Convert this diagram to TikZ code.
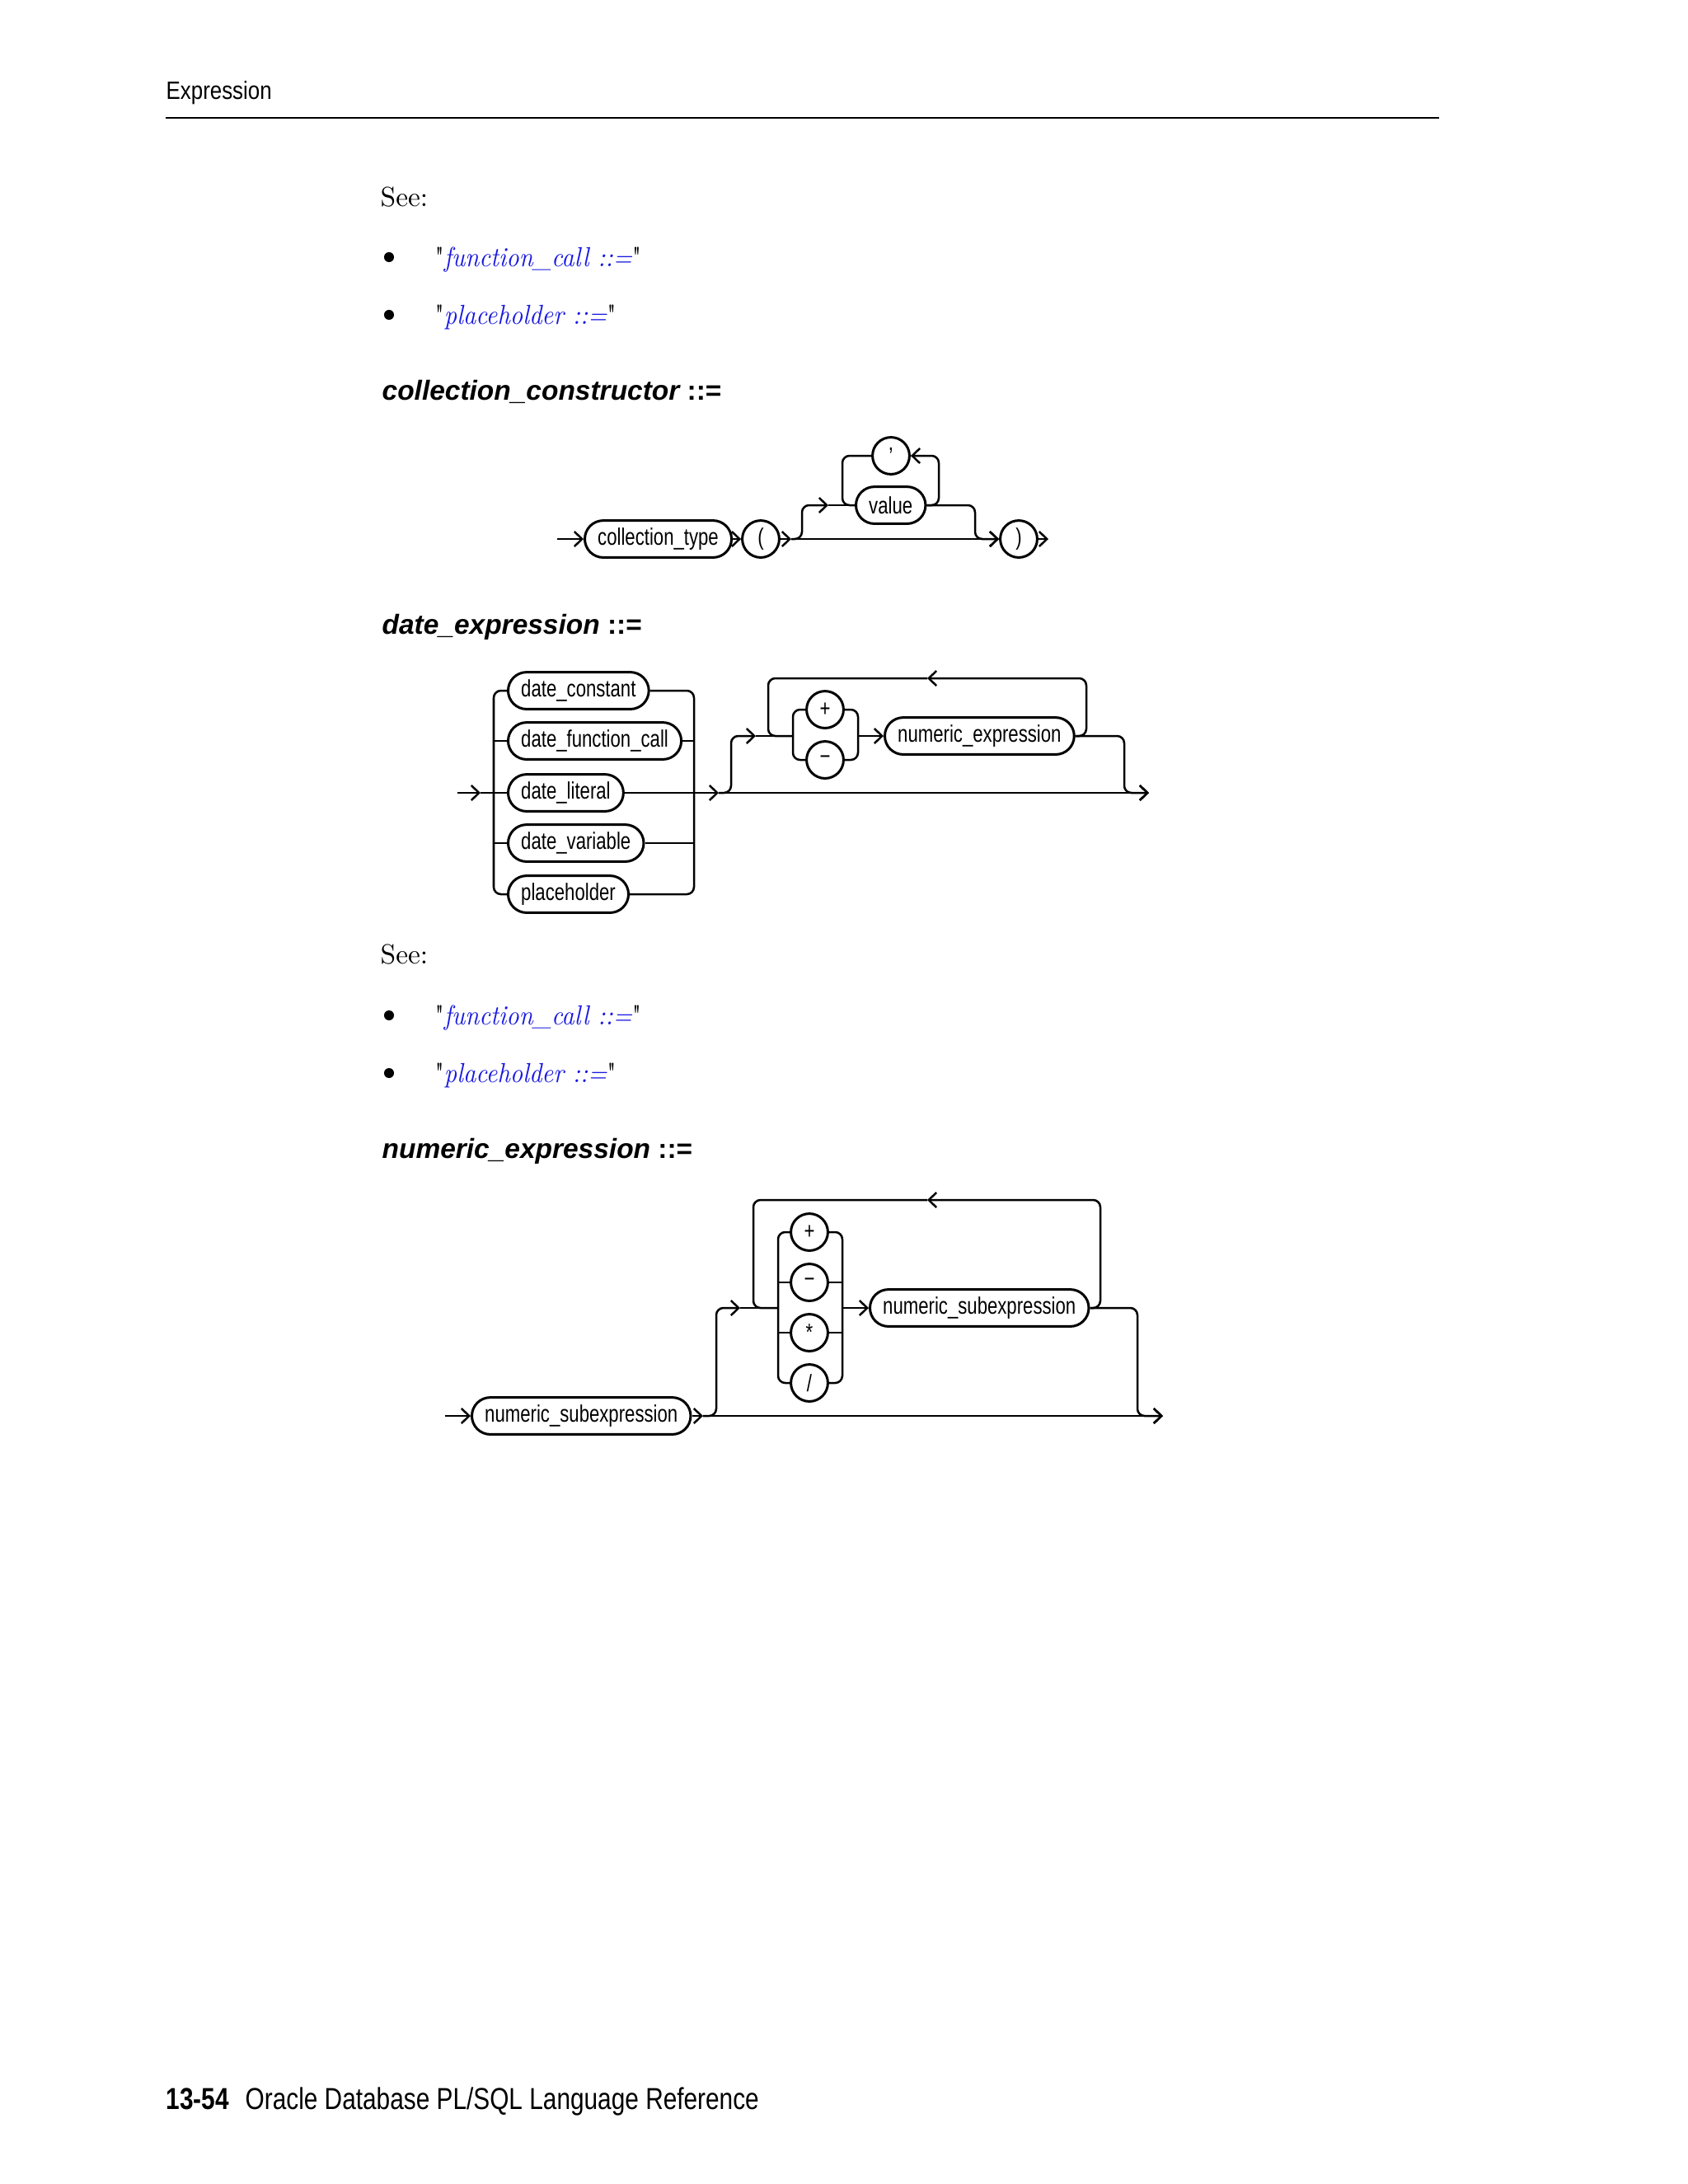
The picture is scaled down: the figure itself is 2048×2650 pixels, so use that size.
\documentclass[tikz,border=0pt]{standalone}
\usepackage{fontspec}
\usepackage{tikz}
\usepackage{xcolor}
\usetikzlibrary{positioning, arrows.meta}
\setsansfont{Liberation Sans}
\newfontfamily\boxfont[FakeStretch=0.77]{Liberation Sans}
\newfontfamily\headfont[FakeStretch=0.85]{Liberation Sans}
\newfontfamily\footfont[FakeStretch=0.81]{Liberation Sans}
\newfontfamily\linkfont[FakeStretch=0.9]{Latin Modern Roman}
\newcommand{\dq}{{\linkfont\upshape"}}
\definecolor{linkblue}{RGB}{25, 25, 225}
\tikzset{
    synline/.style={line width=0.75pt, rounded corners=2.6pt},
    synarrow/.style={synline, -{Straight Barb[length=2.8pt, width=5.4pt]}},
    synbox/.style={draw, line width=0.9pt, rectangle, rounded corners=6.7pt, minimum height=13.4pt,
        inner xsep=4.7pt, inner ysep=0pt, font=\boxfont\fontsize{8.6}{10}\selectfont},
    synterm/.style={draw, line width=0.9pt, circle, minimum size=13.4pt, inner sep=0pt,
        font=\boxfont\fontsize{8.6}{10}\selectfont},
    headtext/.style={anchor=base west, inner sep=0pt, font=\headfont\fontsize{9.1}{11}\selectfont},
    foottext/.style={anchor=base west, inner sep=0pt, font=\footfont\fontsize{11}{13}\selectfont},
    seetext/.style={anchor=base west, inner sep=0pt, font=\fontsize{10}{12}\selectfont},
    linktext/.style={anchor=base west, inner sep=0pt, font=\linkfont\fontsize{10}{12}\selectfont},
    titletext/.style={anchor=base west, inner sep=0pt, font=\sffamily\bfseries\fontsize{10}{12}\selectfont},
    bulletdot/.style={circle, fill, inner sep=0pt, minimum size=3.6pt}
}
\begin{document}
\begin{tikzpicture}[x=0.29883pt, y=-0.29883pt]
\useasboundingbox[fill=white] (0,0) rectangle (2048,2650);

\node[headtext] (head) at (201,120) {Expression};
\draw[line width=0.6pt] (201,143) -- (1746,143);

\node[seetext] (see1) at (461,250) {See:};
\node[bulletdot] (bul1) at (472,312) {};
\node[linktext] (lnk1) at (527,323) {\dq\textcolor{linkblue}{\itshape function\_call ::=}\dq};
\node[bulletdot] (bul2) at (472,382) {};
\node[linktext] (lnk2) at (527,393) {\dq\textcolor{linkblue}{\itshape placeholder ::=}\dq};

\node[titletext] (ttl1) at (463,485) {\itshape collection\_constructor\upshape{} ::=};

\coordinate (cc-in) at (676,654);
\node[synbox, anchor=west] (ctype) at (708,654) {collection\_type};
\node[synterm] (lpar) at (923,654) {(};
\coordinate (cc-split) at (960,654);
\coordinate (cc-b) at (973,613);
\coordinate (cc-up) at (1005,613);
\node[synbox, anchor=west] (value) at (1037,613) {value};
\node[synterm] (comma) at (1081,553) {\raisebox{1.1ex}{,}};
\coordinate (cc-lr) at (1139,553);
\coordinate (cc-ll) at (1022,613);
\coordinate (cc-d) at (1183,654);
\node[synterm] (rpar) at (1236,654) {)};
\coordinate (cc-out) at (1272,654);

\draw[synarrow] (cc-in) -- (ctype);
\draw[synarrow] (ctype) -- (lpar);
\draw[synarrow] (lpar) -- (cc-split);
\draw[synarrow] (cc-split) -- (rpar);
\draw[synarrow] (cc-split) -| (cc-b) -- (cc-up);
\draw[synline] (cc-up) -- (value);
\draw[synarrow] (value.east) -| (cc-lr) -- (comma);
\draw[synline] (comma) -| (cc-ll) -- (value.west);
\draw[synarrow] (value.east) -| (cc-d) -- (rpar);
\draw[synarrow] (rpar) -- (cc-out);

\node[titletext] (ttl2) at (463,769) {\itshape date\_expression\upshape{} ::=};

\coordinate (de-in) at (555,962);
\coordinate (de-a) at (583,962);
\node[synbox, anchor=west] (dconst) at (615,838) {date\_constant};
\node[synbox, anchor=west] (dfunc) at (615,899) {date\_function\_call};
\node[synbox, anchor=west] (dlit) at (615,962) {date\_literal};
\node[synbox, anchor=west] (dvar) at (615,1023) {date\_variable};
\node[synbox, anchor=west] (dplace) at (615,1085) {placeholder};
\coordinate (de-lbot) at (599,1085);
\coordinate (de-rbot) at (842,1085);
\coordinate (de-a2) at (872,962);
\coordinate (de-b) at (887,893);
\coordinate (de-up) at (917,893);
\node[synterm] (dplus) at (1001,861) {+};
\node[synterm] (dminus) at (1001,922) {\symbol{"2212}};
\coordinate (de-gbl) at (962,922);
\coordinate (de-gbr) at (1041,922);
\coordinate (de-gl) at (962,893);
\node[synbox, anchor=west] (numexp) at (1072,893) {numeric\_expression};
\coordinate (de-lt) at (1318,823);
\coordinate (de-larr) at (1125,823);
\coordinate (de-lc) at (932,893);
\coordinate (de-rd) at (1364,962);
\coordinate (de-out) at (1394,962);

\draw[synarrow] (de-in) -- (de-a);
\draw[synline] (de-a) -- (dlit);
\draw[synline] (dconst.west) -| (de-lbot) -- (dplace.west);
\draw[synline] (dfunc.west) -- (dfunc.west -| de-lbot);
\draw[synline] (dvar.west) -- (dvar.west -| de-lbot);
\draw[synline] (dconst.east) -| (de-rbot) -- (dplace.east);
\draw[synline] (dfunc.east) -- (dfunc.east -| de-rbot);
\draw[synline] (dvar.east) -- (dvar.east -| de-rbot);
\draw[synarrow] (dlit) -- (de-a2);
\draw[synarrow] (de-a2) -- (de-out);
\draw[synarrow] (de-a2) -| (de-b) -- (de-up);
\draw[synline] (de-up) -- (de-gl);
\draw[synline] (dplus.west) -| (de-gbl) -- (dminus.west);
\draw[synline] (dplus.east) -| (de-gbr) -- (dminus.east);
\draw[synarrow] (de-gbr |- numexp) -- (numexp);
\draw[synarrow] (numexp.east) -| (de-lt) -- (de-larr);
\draw[synline] (de-larr) -| (de-lc) -- (de-gl);
\draw[synarrow] (numexp.east) -| (de-rd) -- (de-out);

\node[seetext] (see2) at (461,1169) {See:};
\node[bulletdot] (bul3) at (472,1232) {};
\node[linktext] (lnk3) at (527,1243) {\dq\textcolor{linkblue}{\itshape function\_call ::=}\dq};
\node[bulletdot] (bul4) at (472,1302) {};
\node[linktext] (lnk4) at (527,1313) {\dq\textcolor{linkblue}{\itshape placeholder ::=}\dq};

\node[titletext] (ttl3) at (463,1405) {\itshape numeric\_expression\upshape{} ::=};

\coordinate (ne-in) at (540,1718);
\node[synbox, anchor=west] (sub1) at (571,1718) {numeric\_subexpression};
\coordinate (ne-a) at (853,1718);
\coordinate (ne-b) at (869,1587);
\coordinate (ne-up) at (898,1587);
\node[synterm] (nplus) at (982,1495) {+};
\node[synterm] (nminus) at (982,1556) {\symbol{"2212}};
\node[synterm] (nstar) at (982,1617) {*};
\node[synterm] (nslash) at (982,1678) {/};
\coordinate (ne-gbl) at (944,1678);
\coordinate (ne-gbr) at (1022,1678);
\coordinate (ne-gl) at (944,1587);
\node[synbox, anchor=west] (sub2) at (1054,1587) {numeric\_subexpression};
\coordinate (ne-lt) at (1335,1456);
\coordinate (ne-larr) at (1125,1456);
\coordinate (ne-lc) at (914,1587);
\coordinate (ne-rd) at (1380,1718);
\coordinate (ne-out) at (1411,1718);

\draw[synarrow] (ne-in) -- (sub1);
\draw[synarrow] (sub1) -- (ne-a);
\draw[synarrow] (ne-a) -- (ne-out);
\draw[synarrow] (ne-a) -| (ne-b) -- (ne-up);
\draw[synline] (ne-up) -- (ne-gl);
\draw[synline] (nplus.west) -| (ne-gbl) -- (nslash.west);
\draw[synline] (nminus.west) -- (nminus.west -| ne-gbl);
\draw[synline] (nstar.west) -- (nstar.west -| ne-gbl);
\draw[synline] (nplus.east) -| (ne-gbr) -- (nslash.east);
\draw[synline] (nminus.east) -- (nminus.east -| ne-gbr);
\draw[synline] (nstar.east) -- (nstar.east -| ne-gbr);
\draw[synarrow] (ne-gbr |- sub2) -- (sub2);
\draw[synarrow] (sub2.east) -| (ne-lt) -- (ne-larr);
\draw[synline] (ne-larr) -| (ne-lc) -- (ne-gl);
\draw[synarrow] (sub2.east) -| (ne-rd) -- (ne-out);

\node[foottext] (pgnum) at (201,2559) {\bfseries 13-54};
\node[foottext] (book) at (297,2559) {Oracle Database PL/SQL Language Reference};
\end{tikzpicture}
\end{document}
